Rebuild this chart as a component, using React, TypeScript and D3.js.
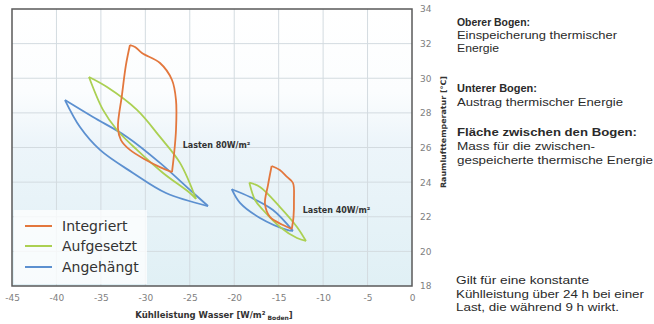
import React, { useEffect, useRef } from 'react';
import * as d3 from 'd3';

// Achsen
const xTicks = [-45, -40, -35, -30, -25, -20, -15, -10, -5, 0];
const yTicks = [18, 20, 22, 24, 26, 28, 30, 32, 34];
const xGrid = [-40, -35, -30, -25, -20, -15, -10, -5];
const yGrid = [20, 22, 24, 26, 28, 30, 32];

const seriesNames = ['Integriert', 'Aufgesetzt', 'Angehängt'];

// Lasten 80 W/m2: oberer und unterer Bogen, jeweils von der linken zur rechten Spitze
const integriert80Upper = [[-31.73, 31.92], [-31.16, 31.81], [-30.38, 31.46], [-28.35, 30.88], [-27.0, 29.9], [-26.55, 28.74], [-26.55, 27.01], [-26.78, 25.57], [-27.0, 24.58]];
const integriert80Lower = [[-31.73, 31.92], [-32.18, 30.77], [-32.63, 29.03], [-33.08, 27.13], [-32.74, 26.43], [-31.73, 25.86], [-29.93, 25.28], [-28.35, 24.87], [-27.0, 24.58]];
const aufgesetzt80Upper = [[-36.34, 30.07], [-34.31, 29.49], [-30.94, 28.17], [-28.35, 26.61], [-26.1, 25.11], [-24.3, 23.03]];
const aufgesetzt80Lower = [[-36.34, 30.07], [-34.76, 28.17], [-33.19, 27.01], [-30.94, 25.86], [-28.01, 24.53], [-24.98, 23.37], [-24.3, 23.03]];
const angehaengt80Upper = [[-39.04, 28.74], [-35.89, 27.76], [-32.06, 26.61], [-28.35, 25.11], [-24.98, 23.55], [-22.95, 22.62]];
const angehaengt80Lower = [[-39.04, 28.74], [-37.35, 27.18], [-35.1, 25.86], [-31.39, 24.53], [-27.68, 23.37], [-22.95, 22.62]];

// Lasten 40 W/m2
const integriert40Upper = [[-15.79, 24.93], [-14.87, 24.7], [-14.06, 24.3], [-13.39, 23.95], [-13.28, 22.97], [-13.33, 21.99], [-13.53, 21.29]];
const integriert40Lower = [[-15.79, 24.93], [-16.2, 23.83], [-16.54, 22.74], [-15.98, 21.99], [-14.51, 21.52], [-13.53, 21.29]];
const aufgesetzt40Upper = [[-18.3, 23.97], [-17.1, 23.72], [-14.85, 22.56], [-12.94, 21.41], [-11.93, 20.6]];
const aufgesetzt40Lower = [[-18.3, 23.97], [-17.66, 22.97], [-16.76, 22.39], [-14.85, 21.41], [-12.94, 20.77], [-11.93, 20.6]];
const angehaengt40Upper = [[-20.28, 23.59], [-18.22, 23.14], [-15.64, 22.39], [-13.39, 21.18]];
const angehaengt40Lower = [[-20.28, 23.59], [-19.35, 22.8], [-17.1, 21.93], [-14.06, 21.24], [-13.39, 21.18]];

const loadLabels = ['Lasten 80W/m²', 'Lasten 40W/m²'];

const noteLines = [
  { text: 'Oberer Bogen:', bold: true },
  { text: 'Einspeicherung thermischer', bold: false },
  { text: 'Energie', bold: false },
  { text: 'Unterer Bogen:', bold: true },
  { text: 'Austrag thermischer Energie', bold: false },
  { text: 'Fläche zwischen den Bogen:', bold: true },
  { text: 'Mass für die zwischen-', bold: false },
  { text: 'gespeicherte thermische Energie', bold: false },
];
const footLines = ['Gilt für eine konstante', 'Kühlleistung über 24 h bei einer', 'Last, die während 9 h wirkt.'];

// Layout
const noteY = [26, 39, 52, 92, 106, 136, 150, 164];
const noteW = [73, 160, 42, 80, 166, 180, 138, 196];
const footY = [284, 298, 311];
const footW = [133, 188, 163];
const colors = ['#e3773d', '#abd052', '#5c90d0'];

const App = () => {
  const ref = useRef<SVGSVGElement | null>(null);

  useEffect(() => {
    const width = 654;
    const height = 324;
    const plot = { left: 12, right: 412, top: 9, bottom: 286 };

    const svg = d3.select(ref.current);
    svg.selectAll('*').remove();
    svg.attr('width', width).attr('height', height);

    const xScale = d3.scaleLinear().domain([-45, 0]).range([plot.left, plot.right]);
    const yScale = d3.scaleLinear().domain([18, 34]).range([plot.bottom, plot.top]);

    // Hintergrundverlauf
    const grad = svg.append('defs').append('linearGradient')
      .attr('id', 'bg').attr('x1', 0).attr('y1', 0).attr('x2', 0).attr('y2', 1);
    grad.append('stop').attr('offset', '0%').attr('stop-color', '#ffffff');
    grad.append('stop').attr('offset', '30%').attr('stop-color', '#fbfdfe');
    grad.append('stop').attr('offset', '48%').attr('stop-color', '#edf5fa');
    grad.append('stop').attr('offset', '100%').attr('stop-color', '#e0f0f5');

    svg.append('rect')
      .attr('x', plot.left).attr('y', plot.top)
      .attr('width', plot.right - plot.left).attr('height', plot.bottom - plot.top)
      .attr('fill', 'url(#bg)');

    // Gitter
    svg.append('g').selectAll('line').data(xGrid).enter().append('line')
      .attr('x1', d => xScale(d)).attr('x2', d => xScale(d))
      .attr('y1', plot.top).attr('y2', plot.bottom)
      .attr('stroke', '#d3dbe0').attr('stroke-width', 1);
    svg.append('g').selectAll('line').data(yGrid).enter().append('line')
      .attr('x1', plot.left).attr('x2', plot.right)
      .attr('y1', d => yScale(d)).attr('y2', d => yScale(d))
      .attr('stroke', '#d3dbe0').attr('stroke-width', 1);

    // Kurven
    const line = d3.line<number[]>()
      .x(d => xScale(d[0]))
      .y(d => yScale(d[1]))
      .curve(d3.curveCatmullRom.alpha(0.5));

    const loops = [
      [angehaengt80Upper, angehaengt80Lower, angehaengt40Upper, angehaengt40Lower],
      [aufgesetzt80Upper, aufgesetzt80Lower, aufgesetzt40Upper, aufgesetzt40Lower],
      [integriert80Upper, integriert80Lower, integriert40Upper, integriert40Lower],
    ];
    const loopColors = [colors[2], colors[1], colors[0]];
    loops.forEach((branches, i) => {
      svg.append('g').selectAll('path').data(branches).enter().append('path')
        .attr('d', d => line(d))
        .attr('fill', 'none')
        .attr('stroke', loopColors[i])
        .attr('stroke-width', 1.8)
        .attr('stroke-linejoin', 'round');
    });

    // Rahmen
    svg.append('rect')
      .attr('x', plot.left).attr('y', plot.top)
      .attr('width', plot.right - plot.left).attr('height', plot.bottom - plot.top)
      .attr('fill', 'none').attr('stroke', '#5a5a5a').attr('stroke-width', 1.5);

    // Achsen
    const xAxis = d3.axisBottom(xScale).tickValues(xTicks).tickSize(0).tickPadding(9)
      .tickFormat(d => `${d}`);
    const gx = svg.append('g').attr('transform', `translate(0, ${plot.bottom})`).call(xAxis);
    gx.select('.domain').remove();
    gx.selectAll('text').attr('fill', '#808080').attr('font-size', 9)
      .attr('font-family', 'DejaVu Sans, sans-serif');

    const yAxis = d3.axisRight(yScale).tickValues(yTicks).tickSize(0).tickPadding(8)
      .tickFormat(d => `${d}`);
    const gy = svg.append('g').attr('transform', `translate(${plot.right}, 0)`).call(yAxis);
    gy.select('.domain').remove();
    gy.selectAll('text').attr('fill', '#808080').attr('font-size', 9)
      .attr('font-family', 'DejaVu Sans, sans-serif');

    // Achsentitel
    const xTitle = svg.append('text')
      .attr('x', 214).attr('y', 318)
      .attr('text-anchor', 'middle')
      .attr('font-family', 'DejaVu Sans, sans-serif')
      .attr('font-weight', 'bold').attr('font-size', 8.5).attr('fill', '#333');
    xTitle.append('tspan').text('Kühlleistung Wasser [W/m²');
    xTitle.append('tspan').attr('font-size', 6).attr('dy', 1.5).text(' Boden');
    xTitle.append('tspan').attr('dy', -1.5).text(']');

    svg.append('text')
      .attr('transform', 'translate(446, 132) rotate(-90)')
      .attr('text-anchor', 'middle')
      .attr('font-family', 'DejaVu Sans, sans-serif')
      .attr('font-weight', 'bold').attr('font-size', 7.5).attr('fill', '#333')
      .attr('textLength', 112).attr('lengthAdjust', 'spacingAndGlyphs')
      .text('Raumlufttemperatur [°C]');

    // Beschriftung Lasten
    svg.append('text')
      .attr('x', xScale(-25.8)).attr('y', yScale(26.0))
      .attr('font-family', 'DejaVu Sans, sans-serif')
      .attr('font-weight', 'bold').attr('font-size', 8).attr('fill', '#333')
      .text(loadLabels[0]);
    svg.append('text')
      .attr('x', xScale(-12.3)).attr('y', yScale(22.2))
      .attr('font-family', 'DejaVu Sans, sans-serif')
      .attr('font-weight', 'bold').attr('font-size', 8).attr('fill', '#333')
      .text(loadLabels[1]);

    // Legende
    const legend = svg.append('g');
    legend.append('rect')
      .attr('x', 14).attr('y', 210).attr('width', 133).attr('height', 74)
      .attr('fill', '#ffffff').attr('opacity', 0.75);
    const items = legend.selectAll('g.item').data(seriesNames).enter().append('g')
      .attr('class', 'item')
      .attr('transform', (d, i) => `translate(0, ${[226, 246, 267][i]})`);
    items.append('line')
      .attr('x1', 25).attr('x2', 52).attr('y1', 0).attr('y2', 0)
      .attr('stroke', (d, i) => colors[i]).attr('stroke-width', 2);
    items.append('text')
      .attr('x', 62).attr('y', 5)
      .attr('font-family', 'DejaVu Sans, sans-serif')
      .attr('font-size', 14).attr('fill', '#333')
      .text(d => d);

    // Erläuterungen rechts
    svg.append('g').selectAll('text').data(noteLines).enter().append('text')
      .attr('x', 457).attr('y', (d, i) => noteY[i])
      .attr('font-family', 'Liberation Sans, Arial, sans-serif')
      .attr('font-size', 11)
      .attr('font-weight', d => (d.bold ? 'bold' : 'normal'))
      .attr('fill', '#2a2a2a')
      .attr('textLength', (d, i) => noteW[i]).attr('lengthAdjust', 'spacingAndGlyphs')
      .text(d => d.text);

    svg.append('g').selectAll('text').data(footLines).enter().append('text')
      .attr('x', 456).attr('y', (d, i) => footY[i])
      .attr('font-family', 'Liberation Sans, Arial, sans-serif')
      .attr('font-size', 11)
      .attr('fill', '#2a2a2a')
      .attr('textLength', (d, i) => footW[i]).attr('lengthAdjust', 'spacingAndGlyphs')
      .text(d => d);
  }, []);

  return (
    <div style={{ position: 'absolute', left: 0, top: 0 }}>
      <svg ref={ref} style={{ display: 'block' }}></svg>
    </div>
  );
};

export default App;
